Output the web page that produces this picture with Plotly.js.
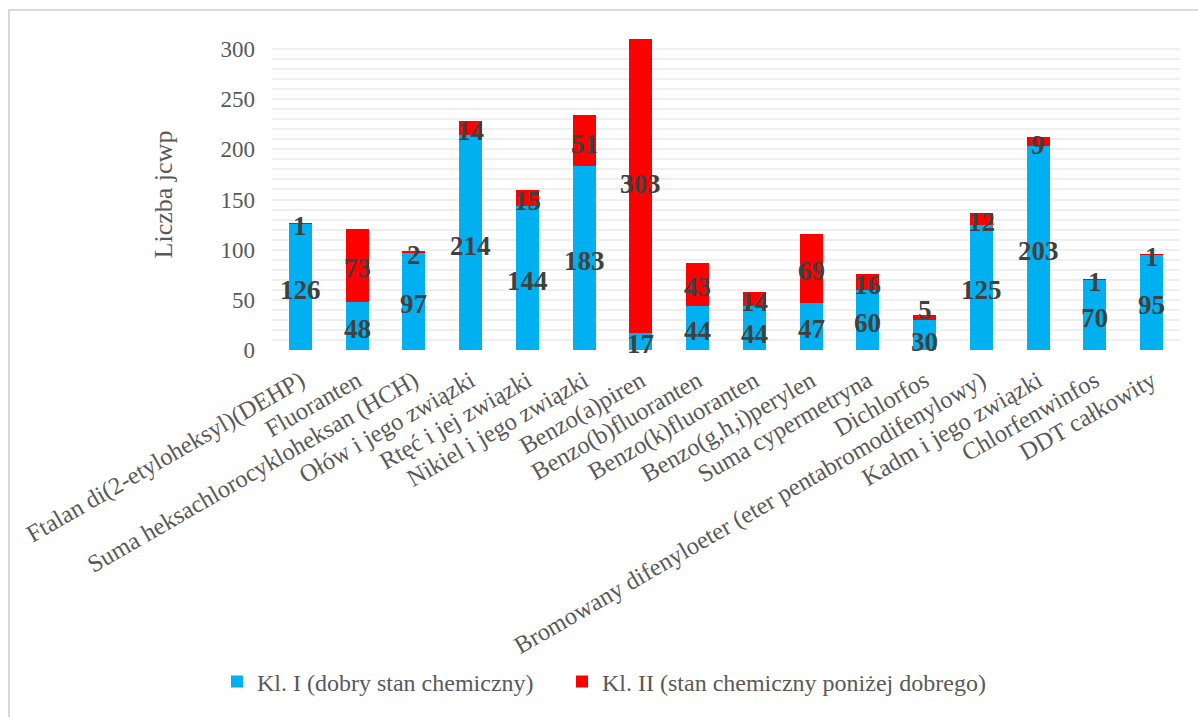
<!DOCTYPE html>
<html>
<head>
<meta charset="utf-8">
<script src="https://cdn.plot.ly/plotly-3.0.1.min.js"></script>
<style>
html,body{margin:0;padding:0;background:#fff;}
#chart{width:1198px;height:717px;}
#frame{position:absolute;left:8px;top:9px;width:1200px;height:720px;border:2px solid #D9D9D9;pointer-events:none;}
</style>
</head>
<body>
<div id="chart"></div>
<div id="frame"></div>
<script>
const categories = ["Ftalan di(2-etyloheksyl)(DEHP)","Fluoranten","Suma heksachlorocykloheksan (HCH)","Ołów i jego związki","Rtęć i jej związki","Nikiel i jego związki","Benzo(a)piren","Benzo(b)fluoranten","Benzo(k)fluoranten","Benzo(g,h,i)perylen","Suma cypermetryna","Dichlorfos","Bromowany difenyloeter (eter pentabromodifenylowy)","Kadm i jego związki","Chlorfenwinfos","DDT całkowity"];
const klasaI = [126,48,97,214,144,183,17,44,44,47,60,30,125,203,70,95];
const klasaII = [1,73,2,14,15,51,303,43,14,69,16,5,12,9,1,1];
const nameI = "Kl. I (dobry stan chemiczny)";
const nameII = "Kl. II (stan chemiczny poniżej dobrego)";
const yTicks = [0,50,100,150,200,250,300];

const FONT = "Liberation Serif";
const labelFont = {family: FONT, size: 27, color: "#404040", weight: "bold"};
const legendFont = {family: FONT, size: 24, color: "#595959"};

const Y_MAX = 310, PLOT_H = 314, MIN_SEP = 32;

const traces = [
  {type:"bar", x:categories, y:klasaI, name:nameI, marker:{color:"#00B0F0"}, hoverinfo:"skip", legend:"legend"},
  {type:"bar", x:categories, y:klasaII, name:nameII, marker:{color:"#FF0000"}, hoverinfo:"skip", legend:"legend2"}
];

const annotations = [];
categories.forEach((c, i) => {
  const yI = klasaI[i]/2, yII = klasaI[i] + klasaII[i]/2;
  const sepPx = (yII - yI) * PLOT_H / Y_MAX;
  const extra = sepPx < MIN_SEP ? (MIN_SEP - sepPx) : 0;
  const down = Math.min(extra, 4);
  annotations.push({x:c, y:yI, xref:"x", yref:"y", text:String(klasaI[i]),
    showarrow:false, font:labelFont, yshift:-3 - down});
  annotations.push({x:c, y:yII, xref:"x", yref:"y", text:String(klasaII[i]),
    showarrow:false, font:labelFont, yshift:-3 + (extra - down)});
});

const layout = {
  width:1198, height:717,
  margin:{l:272, r:18, t:39, b:364},
  paper_bgcolor:"#fff", plot_bgcolor:"#fff",
  barmode:"stack", bargap:0.595,
  font:{family:FONT, color:"#595959"},
  showlegend:true,
  legend:{orientation:"h", x:-0.0606, xanchor:"left", y:-1.067, yanchor:"middle",
          font:legendFont, itemwidth:30},
  legend2:{orientation:"h", x:0.3194, xanchor:"left", y:-1.067, yanchor:"middle",
          font:legendFont, itemwidth:30},
  annotations: annotations,
  xaxis:{type:"category", range:[-0.5, categories.length-0.5], tickangle:-30,
         tickfont:{family:FONT, size:24.5, color:"#595959"},
         showgrid:false, zeroline:false, showline:false,
         ticks:"outside", ticklen:6, tickcolor:"rgba(0,0,0,0)", automargin:false},
  yaxis:{range:[0,Y_MAX], tickvals:yTicks, ticktext:yTicks.map(String),
         tickfont:{family:FONT, size:23, color:"#595959"},
         showgrid:true, gridcolor:"#EFEFEF", gridwidth:2,
         minor:{dtick:10, showgrid:true, gridcolor:"#EFEFEF", gridwidth:2},
         zeroline:false, showline:false, ticklabelstandoff:16,
         title:{text:"Liczba jcwp", font:{family:FONT, size:26, color:"#595959"}, standoff:40},
         automargin:false}
};

Plotly.newPlot("chart", traces, layout, {staticPlot:true, displayModeBar:false});
</script>
</body>
</html>
